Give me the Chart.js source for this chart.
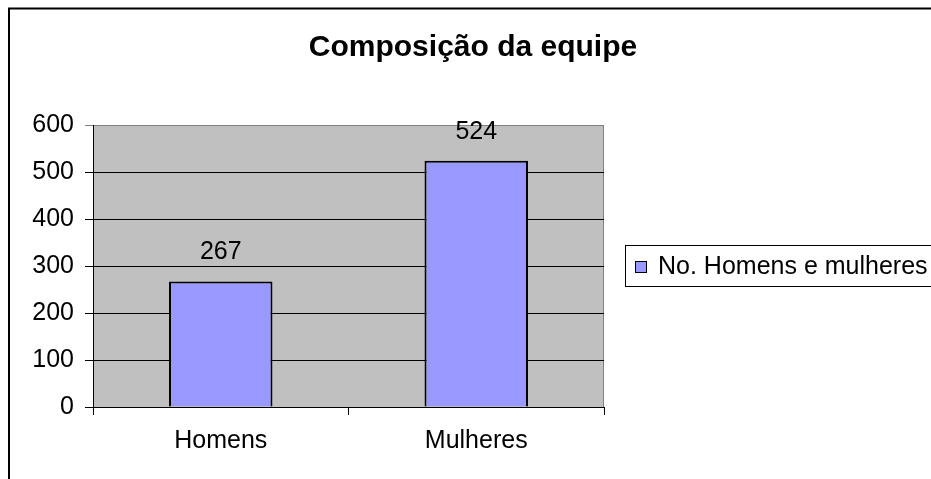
<!DOCTYPE html>
<html>
<head>
<meta charset="utf-8">
<script src="https://cdn.jsdelivr.net/npm/chart.js@4.4.1/dist/chart.umd.min.js"></script>
<style>
  html, body { margin: 0; padding: 0; background: #fff; }
  canvas { display: block; }
</style>
</head>
<body>
<canvas id="chart" width="931" height="479"></canvas>
<script>
const titleText = 'Composição da equipe';
const categories = ['Homens', 'Mulheres'];
const seriesName = 'No. Homens e mulheres';
const seriesValues = [267, 524];
const yTicks = [0, 100, 200, 300, 400, 500, 600];

const FONT = "'Liberation Sans', Arial, sans-serif";
Chart.defaults.font.family = FONT;
Chart.defaults.color = '#000';

// frame, plot background, title and legend, drawn around the chart
const decor = {
    id: 'decor',
    beforeDraw(chart) {
        const ctx = chart.ctx;
        const a = chart.chartArea;
        ctx.save();
        ctx.fillStyle = '#fff';
        ctx.fillRect(0, 0, chart.width, chart.height);
        ctx.strokeStyle = '#000';
        ctx.lineWidth = 2;
        ctx.strokeRect(9, 8.5, 2000, 2000);
        ctx.fillStyle = '#c0c0c0';
        ctx.fillRect(a.left, a.top, a.right - a.left, a.bottom - a.top);
        ctx.strokeStyle = '#808080';
        ctx.lineWidth = 1;
        ctx.strokeRect(a.left + 0.5, a.top + 0.5, a.right - a.left - 1, a.bottom - a.top);
        ctx.restore();
    },
    afterDraw(chart) {
        const ctx = chart.ctx;
        const ds = chart.data.datasets[0];
        ctx.save();
        ctx.fillStyle = '#000';
        ctx.font = 'bold 30px ' + FONT;
        ctx.textAlign = 'center';
        ctx.textBaseline = 'middle';
        ctx.fillText(titleText, 473, 48);

        // legend
        ctx.strokeStyle = '#000';
        ctx.lineWidth = 1;
        ctx.strokeRect(625.5, 245.5, 400, 41);
        ctx.fillStyle = ds.backgroundColor;
        ctx.fillRect(635, 261, 12, 12);
        ctx.strokeRect(635.5, 261.5, 11, 11);
        ctx.fillStyle = '#000';
        ctx.font = '25px ' + FONT;
        ctx.textAlign = 'left';
        ctx.fillText(ds.label, 658, 267);
        ctx.restore();
    },
    afterDatasetsDraw(chart) {
        const ctx = chart.ctx;
        const meta = chart.getDatasetMeta(0);
        ctx.save();
        ctx.fillStyle = '#000';
        ctx.font = '25px ' + FONT;
        ctx.textAlign = 'center';
        ctx.textBaseline = 'middle';
        meta.data.forEach(function (bar, i) {
            ctx.fillText(String(seriesValues[i]), bar.x, bar.y - 29);
        });
        ctx.restore();
    }
};

new Chart(document.getElementById('chart'), {
    type: 'bar',
    data: {
        labels: categories,
        datasets: [{
            label: seriesName,
            data: seriesValues,
            backgroundColor: '#9999ff',
            borderColor: '#000',
            borderWidth: 2,
            categoryPercentage: 1,
            barPercentage: 0.405
        }]
    },
    options: {
        responsive: false,
        animation: false,
        layout: {padding: {left: 0, top: 125, right: 327, bottom: 0}},
        plugins: {
            legend: {display: false},
            title: {display: false},
            tooltip: {enabled: false}
        },
        scales: {
            x: {
                afterFit(scale) { scale.height = 72; },
                grid: {
                    offset: true,
                    drawOnChartArea: false,
                    drawTicks: true,
                    tickLength: 8,
                    color: '#000'
                },
                border: {color: '#000', width: 1},
                ticks: {font: {size: 25}, padding: 11, color: '#000'}
            },
            y: {
                min: 0,
                max: 600,
                afterFit(scale) { scale.width = 93; },
                afterBuildTicks(scale) {
                    scale.ticks = yTicks.map(function (v) { return {value: v}; });
                },
                grid: {
                    color: function (c) { return c.tick && c.tick.value === 600 ? '#808080' : '#000'; },
                    drawTicks: true,
                    tickLength: 8
                },
                border: {color: '#000', width: 1},
                ticks: {font: {size: 25}, padding: 11, color: '#000'}
            }
        }
    },
    plugins: [decor]
});
</script>
</body>
</html>
